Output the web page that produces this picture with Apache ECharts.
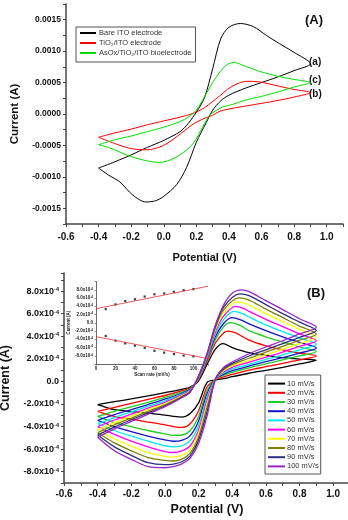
<!DOCTYPE html>
<html>
<head>
<meta charset="utf-8">
<script src="https://cdn.jsdelivr.net/npm/echarts@6/dist/echarts.min.js"></script>
<style>
  html, body { margin: 0; padding: 0; background: #fff; }
  #chart { width: 348px; height: 520px; }
</style>
</head>
<body>
<div id="chart"></div>
<script>
// panel A : cyclic voltammograms [potential V, current A]
const cvBare = [[-0.4,-0.00086],[-0.3,-0.00076],[-0.2,-0.00065],[-0.1,-0.00053],[0.0,-0.00042],[0.1,-0.00028],[0.15,-0.00015],[0.2,0.00003],[0.25,0.00026],[0.3,0.00072],[0.35,0.0012],[0.4,0.00138],[0.47,0.00144],[0.55,0.00139],[0.63,0.00125],[0.71,0.00112],[0.8,0.00098],[0.9,0.0008],
  [0.8,0.00069],[0.7,0.00059],[0.6,0.0005],[0.5,0.00041],[0.4,0.0003],[0.35,0.00021],[0.3,0.00006],[0.26,-0.00014],[0.2,-0.00045],[0.14,-0.00085],[0.08,-0.00112],[0.0,-0.00131],[-0.05,-0.00138],[-0.11,-0.0014],[-0.19,-0.00129],[-0.27,-0.00108],[-0.34,-0.00097],[-0.4,-0.00086]];
const cvTiO2 = [[-0.4,-0.00037],[-0.3,-0.0003],[-0.2,-0.00024],[-0.1,-0.00017],[0.0,-0.00011],[0.1,-0.00005],[0.18,0.00001],[0.25,0.0001],[0.3,0.0002],[0.35,0.0003],[0.39,0.00039],[0.45,0.00048],[0.51,0.00052],[0.59,0.00051],[0.71,0.00044],[0.8,0.00039],[0.9,0.00034],
  [0.8,0.00027],[0.71,0.00022],[0.6,0.00017],[0.51,0.00013],[0.4,0.00008],[0.34,0.00004],[0.3,-0.00002],[0.24,-0.00008],[0.18,-0.00016],[0.13,-0.00026],[0.08,-0.00036],[0.02,-0.00047],[-0.03,-0.00053],[-0.1,-0.00057],[-0.2,-0.00055],[-0.3,-0.00047],[-0.4,-0.00037]];
const cvAsOx = [[-0.4,-0.00049],[-0.3,-0.00041],[-0.2,-0.00035],[-0.1,-0.00028],[0.0,-0.00021],[0.1,-0.00012],[0.15,-0.00005],[0.2,0.00006],[0.26,0.00032],[0.32,0.00058],[0.38,0.00077],[0.43,0.00082],[0.5,0.00076],[0.6,0.00067],[0.7,0.0006],[0.8,0.00055],[0.9,0.0005],
  [0.8,0.00043],[0.7,0.00035],[0.6,0.00028],[0.5,0.00022],[0.42,0.00015],[0.36,0.00011],[0.3,0.00002],[0.28,-0.00002],[0.24,-0.0002],[0.18,-0.00047],[0.1,-0.00065],[0.02,-0.00075],[-0.03,-0.00077],[-0.13,-0.00073],[-0.23,-0.00065],[-0.33,-0.00054],[-0.4,-0.00049]];
const namesA = ['Bare ITO electrode', 'TiO\u2082/ITO electrode', 'AsOx/TiO\u2082/ITO bioelectrode'];
const colorsA = ['#000000', '#ff0000', '#00dd00'];

// panel B : scan rate series, current in units of 1e-4 A
const scanNames = ['10 mV/s','20 mV/s','30 mV/s','40 mV/s','50 mV/s','60 mV/s','70 mV/s','80 mV/s','90 mV/s','100 mV/s'];
const scanColors = ['#000000','#ff0000','#22cc22','#1414c8','#00e8f0','#ff00ff','#ffff00','#808000','#2e2e80','#9926c8'];
const cv10 = [[-0.4,-2.05],[-0.3,-1.8],[-0.2,-1.55],[-0.1,-1.28],[0,-1.0],[0.1,-0.7],[0.15,-0.5],[0.2,0.05],[0.25,1.5],[0.3,2.85],[0.345,3.35],[0.4,3.0],[0.5,2.55],[0.6,2.3],[0.7,2.1],[0.8,1.97],[0.9,1.87],
  [0.8,1.55],[0.7,1.25],[0.6,0.98],[0.5,0.72],[0.4,0.42],[0.35,0.25],[0.3,0.12],[0.25,-0.1],[0.2,-1.9],[0.15,-2.85],[0.1,-3.17],[0.05,-3.1],[0,-2.98],[-0.1,-2.82],[-0.2,-2.67],[-0.3,-2.5],[-0.4,-2.05]];
const cv20 = [[-0.4,-2.65],[-0.3,-2.3],[-0.2,-1.95],[-0.1,-1.6],[0,-1.25],[0.1,-0.85],[0.15,-0.6],[0.2,0.15],[0.25,1.75],[0.3,3.4],[0.35,4.3],[0.375,4.45],[0.42,4.3],[0.5,3.65],[0.6,3.15],[0.7,2.8],[0.8,2.5],[0.9,2.25],
  [0.8,1.9],[0.7,1.6],[0.6,1.3],[0.5,1.0],[0.4,0.62],[0.35,0.4],[0.3,0.15],[0.25,-0.5],[0.2,-2.6],[0.15,-3.75],[0.1,-4.08],[0.05,-4.0],[0,-3.85],[-0.1,-3.6],[-0.2,-3.35],[-0.3,-3.1],[-0.4,-2.65]];
const cv30 = [[-0.4,-3.1],[-0.3,-2.65],[-0.2,-2.25],[-0.1,-1.85],[0,-1.42],[0.1,-0.95],[0.15,-0.65],[0.2,0.2],[0.25,1.9],[0.3,3.7],[0.35,4.85],[0.39,5.2],[0.44,5.0],[0.5,4.5],[0.6,3.95],[0.7,3.5],[0.8,3.05],[0.9,2.65],
  [0.8,2.25],[0.7,1.9],[0.6,1.55],[0.5,1.2],[0.4,0.8],[0.35,0.55],[0.3,0.2],[0.25,-0.8],[0.2,-3.1],[0.15,-4.35],[0.1,-4.75],[0.05,-4.78],[0,-4.65],[-0.1,-4.35],[-0.2,-4.0],[-0.3,-3.65],[-0.4,-3.1]];
const cv40 = [[-0.4,-3.45],[-0.3,-2.95],[-0.2,-2.5],[-0.1,-2.05],[0,-1.58],[0.1,-1.05],[0.15,-0.7],[0.2,0.25],[0.25,2.0],[0.3,3.95],[0.35,5.15],[0.4,5.65],[0.45,5.45],[0.5,5.1],[0.6,4.5],[0.7,3.95],[0.8,3.45],[0.9,2.95],
  [0.8,2.5],[0.7,2.1],[0.6,1.75],[0.5,1.35],[0.4,0.95],[0.35,0.65],[0.3,0.2],[0.25,-1.1],[0.2,-3.5],[0.15,-4.8],[0.1,-5.22],[0.05,-5.3],[0,-5.18],[-0.1,-4.85],[-0.2,-4.45],[-0.3,-4.0],[-0.4,-3.45]];
const cv50 = [[-0.4,-3.75],[-0.3,-3.2],[-0.2,-2.7],[-0.1,-2.2],[0,-1.72],[0.1,-1.12],[0.15,-0.75],[0.2,0.3],[0.25,2.1],[0.3,4.2],[0.35,5.5],[0.41,6.2],[0.46,6.0],[0.5,5.7],[0.6,5.0],[0.7,4.4],[0.8,3.85],[0.9,3.3],
  [0.8,2.8],[0.7,2.35],[0.6,1.95],[0.5,1.5],[0.4,1.1],[0.35,0.75],[0.3,0.2],[0.25,-1.4],[0.2,-3.9],[0.15,-5.25],[0.1,-5.7],[0.05,-5.8],[0,-5.7],[-0.1,-5.3],[-0.2,-4.85],[-0.3,-4.35],[-0.4,-3.75]];
const cv60 = [[-0.4,-4.0],[-0.3,-3.42],[-0.2,-2.9],[-0.1,-2.36],[0,-1.85],[0.1,-1.2],[0.15,-0.8],[0.2,0.35],[0.25,2.2],[0.3,4.4],[0.35,5.8],[0.42,6.65],[0.47,6.45],[0.5,6.2],[0.6,5.5],[0.7,4.85],[0.8,4.2],[0.9,3.6],
  [0.8,3.1],[0.7,2.6],[0.6,2.15],[0.5,1.7],[0.4,1.25],[0.35,0.85],[0.3,0.2],[0.25,-1.7],[0.2,-4.3],[0.15,-5.7],[0.1,-6.15],[0.05,-6.3],[0,-6.22],[-0.1,-5.8],[-0.2,-5.3],[-0.3,-4.7],[-0.4,-4.0]];
const cv70 = [[-0.4,-4.3],[-0.3,-3.65],[-0.2,-3.08],[-0.1,-2.5],[0,-1.97],[0.1,-1.28],[0.15,-0.85],[0.2,0.4],[0.25,2.3],[0.3,4.6],[0.35,6.1],[0.43,7.05],[0.48,6.9],[0.6,6.0],[0.7,5.3],[0.8,4.6],[0.9,3.9],
  [0.8,3.35],[0.7,2.85],[0.6,2.35],[0.5,1.85],[0.4,1.4],[0.35,0.95],[0.3,0.2],[0.25,-2.0],[0.2,-4.6],[0.15,-6.05],[0.1,-6.55],[0.05,-6.7],[0,-6.65],[-0.1,-6.3],[-0.2,-5.75],[-0.3,-5.1],[-0.4,-4.3]];
const cv80 = [[-0.4,-4.55],[-0.3,-3.85],[-0.2,-3.25],[-0.1,-2.65],[0,-2.08],[0.1,-1.35],[0.15,-0.88],[0.2,0.4],[0.25,2.35],[0.3,4.75],[0.35,6.35],[0.44,7.4],[0.5,7.2],[0.6,6.4],[0.7,5.65],[0.8,4.9],[0.9,4.2],
  [0.8,3.65],[0.7,3.1],[0.6,2.6],[0.5,2.05],[0.4,1.5],[0.35,1.05],[0.3,0.2],[0.25,-2.3],[0.2,-4.9],[0.15,-6.35],[0.1,-6.88],[0.05,-7.05],[0,-7.0],[-0.1,-6.75],[-0.2,-6.15],[-0.3,-5.45],[-0.4,-4.55]];
const cv90 = [[-0.4,-4.75],[-0.3,-4.05],[-0.2,-3.4],[-0.1,-2.78],[0,-2.18],[0.1,-1.4],[0.15,-0.92],[0.2,0.45],[0.25,2.4],[0.3,4.9],[0.35,6.6],[0.445,7.75],[0.5,7.6],[0.6,6.8],[0.7,6.0],[0.8,5.25],[0.9,4.5],
  [0.8,3.9],[0.7,3.35],[0.6,2.8],[0.5,2.25],[0.4,1.6],[0.35,1.15],[0.3,0.2],[0.25,-2.7],[0.2,-5.2],[0.15,-6.6],[0.1,-7.12],[0.05,-7.33],[0,-7.38],[-0.1,-7.2],[-0.2,-6.55],[-0.3,-5.8],[-0.4,-4.75]];
const cv100 = [[-0.4,-4.95],[-0.3,-4.2],[-0.2,-3.55],[-0.1,-2.9],[0,-2.25],[0.1,-1.45],[0.15,-0.95],[0.2,0.5],[0.25,2.45],[0.3,5.0],[0.35,6.8],[0.4,7.8],[0.455,8.1],[0.5,7.95],[0.6,7.15],[0.7,6.35],[0.8,5.55],[0.9,4.8],
  [0.8,4.2],[0.7,3.6],[0.6,3.05],[0.5,2.45],[0.4,1.72],[0.35,1.25],[0.3,0.2],[0.25,-3.1],[0.2,-5.5],[0.15,-6.8],[0.1,-7.3],[0.05,-7.55],[0,-7.65],[-0.1,-7.55],[-0.2,-6.9],[-0.3,-6.15],[-0.4,-4.95]];
const cvB = [cv10, cv20, cv30, cv40, cv50, cv60, cv70, cv80, cv90, cv100];

// inset : peak current vs scan rate (1e-4 A)
const scanRate = [10, 20, 30, 40, 50, 60, 70, 80, 90, 100];
const ipa = [3.3, 4.45, 5.25, 5.7, 6.35, 6.9, 7.1, 7.5, 7.9, 8.15];
const ipc = [-3.2, -4.35, -5.0, -5.55, -6.1, -6.8, -7.25, -7.6, -7.95, -8.15];
const fitA = [[0, 3.4], [115, 8.85]];
const fitC = [[0, -3.35], [115, -8.7]];

const FONT = '"Liberation Sans", Arial, "DejaVu Sans", sans-serif';
const axisCol = '#444';

function fmtX(v) {
  const k = Math.round(v * 10);
  if (Math.abs(v * 10 - k) > 1e-6 || k % 2 !== 0 || k > 10) return '';
  return v.toFixed(1);
}
function fmtYA(v) {
  const k = Math.round(v / 0.00025);
  if (Math.abs(v / 0.00025 - k) > 1e-6 || k % 2 !== 0 || Math.abs(k) > 6) return '';
  return (k * 0.00025).toFixed(4);
}
function fmtE4(v, lim) {
  const k = Math.round(v);
  if (Math.abs(v - k) > 1e-6 || k % 2 !== 0 || Math.abs(k) > lim) return '';
  if (k === 0) return '0.0';
  return k.toFixed(1) + 'x10{s|-4}';
}

function baseAxis(extra) {
  return Object.assign({
    type: 'value',
    splitLine: { show: false },
    axisLine: { onZero: false, lineStyle: { color: axisCol, width: 1.5 } },
    axisTick: { length: 3, lineStyle: { color: axisCol, width: 1 } },
    nameLocation: 'middle'
  }, extra);
}

const chart = echarts.init(document.getElementById('chart'), null, { renderer: 'canvas' });

const series = [];
[cvBare, cvTiO2, cvAsOx].forEach((d, i) => {
  series.push({
    name: namesA[i], type: 'line', xAxisIndex: 0, yAxisIndex: 0,
    data: d, showSymbol: false, smooth: 0.3, animation: false,
    lineStyle: { color: colorsA[i], width: 1 }, itemStyle: { color: colorsA[i] }
  });
});
cvB.forEach((d, i) => {
  series.push({
    name: scanNames[i], type: 'line', xAxisIndex: 1, yAxisIndex: 1,
    data: d, showSymbol: false, smooth: 0.3, animation: false,
    lineStyle: { color: scanColors[i], width: 1.3 }, itemStyle: { color: scanColors[i] }
  });
});
series.push({
  type: 'line', xAxisIndex: 2, yAxisIndex: 2, data: fitA, showSymbol: false, animation: false,
  lineStyle: { color: '#e03030', width: 0.8 }
});
series.push({
  type: 'line', xAxisIndex: 2, yAxisIndex: 2, data: fitC, showSymbol: false, animation: false,
  lineStyle: { color: '#e03030', width: 0.8 }
});
series.push({
  type: 'scatter', xAxisIndex: 2, yAxisIndex: 2, symbol: 'rect', symbolSize: 2.2, animation: false,
  data: scanRate.map((s, i) => [s, ipa[i]]), itemStyle: { color: '#111' }
});
series.push({
  type: 'scatter', xAxisIndex: 2, yAxisIndex: 2, symbol: 'rect', symbolSize: 2.2, animation: false,
  data: scanRate.map((s, i) => [s, ipc[i]]), itemStyle: { color: '#111' }
});

const labBold = (size, fmt, margin) => ({
  fontSize: size, fontWeight: 'bold', color: '#111', fontFamily: FONT, formatter: fmt, margin: margin
});

chart.setOption({
  backgroundColor: '#fff',
  animation: false,
  grid: [
    { left: 66, top: 4, right: 5, bottom: 296, outerBoundsMode: 'none' },
    { left: 64, top: 273, right: -2, bottom: 37, outerBoundsMode: 'none' },
    { left: 96, top: 281.5, right: 140, bottom: 156, outerBoundsMode: 'none' }
  ],
  xAxis: [
    baseAxis({ gridIndex: 0, min: -0.6, max: 1.1, interval: 0.1,
      axisLabel: labBold(10, fmtX, 8),
      name: 'Potential (V)', nameGap: 28,
      nameTextStyle: { fontSize: 11, fontWeight: 'bold', color: '#111', fontFamily: FONT } }),
    baseAxis({ gridIndex: 1, min: -0.6, max: 1.1, interval: 0.1,
      axisLabel: labBold(10, fmtX, 6),
      name: 'Potential (V)', nameGap: 20,
      nameTextStyle: { fontSize: 12.5, fontWeight: 'bold', color: '#111', fontFamily: FONT } }),
    baseAxis({ gridIndex: 2, min: 0, max: 115, interval: 20,
      axisLine: { onZero: false, lineStyle: { color: axisCol, width: 0.8 } },
      axisTick: { length: 1.5, lineStyle: { color: axisCol, width: 0.6 } },
      axisLabel: { fontSize: 4.5, fontWeight: 'bold', color: '#222', fontFamily: FONT, margin: 2,
        formatter: v => (v % 20 === 0 && v <= 100) ? String(v) : '' },
      name: 'Scan rate (mV/s)', nameGap: 7,
      nameTextStyle: { fontSize: 4.5, fontWeight: 'bold', color: '#222', fontFamily: FONT } })
  ],
  yAxis: [
    baseAxis({ gridIndex: 0, min: -0.00175, max: 0.00175, interval: 0.00025,
      axisLabel: labBold(8.5, fmtYA, 5),
      name: 'Current (A)', nameGap: 40,
      nameTextStyle: { fontSize: 11.5, fontWeight: 'bold', color: '#111', fontFamily: FONT } }),
    baseAxis({ gridIndex: 1, min: -9, max: 9.6, interval: 1,
      axisLabel: Object.assign(labBold(9, v => fmtE4(v, 8), 5), {
        rich: { s: { fontSize: 5.5, fontWeight: 'bold', color: '#111', fontFamily: FONT, verticalAlign: 'top', lineHeight: 8 } }
      }),
      name: 'Current (A)', nameGap: 52,
      nameTextStyle: { fontSize: 12.5, fontWeight: 'bold', color: '#111', fontFamily: FONT } }),
    baseAxis({ gridIndex: 2, min: -10, max: 10, interval: 2,
      axisLine: { onZero: false, lineStyle: { color: axisCol, width: 0.8 } },
      axisTick: { length: 1.5, lineStyle: { color: axisCol, width: 0.6 } },
      axisLabel: { fontSize: 4.5, fontWeight: 'bold', color: '#222', fontFamily: FONT, margin: 3,
        formatter: v => fmtE4(v, 8),
        rich: { s: { fontSize: 3, fontWeight: 'bold', color: '#222', fontFamily: FONT, verticalAlign: 'top', lineHeight: 4 } } },
      name: 'Current (A)', nameGap: 21,
      nameTextStyle: { fontSize: 4.5, fontWeight: 'bold', color: '#222', fontFamily: FONT } })
  ],
  legend: [
    { data: namesA, orient: 'vertical', left: 76, top: 27, itemGap: 0,
      itemWidth: 16, itemHeight: 2, icon: 'rect',
      padding: [1, 4, 4, 4], borderColor: '#555', borderWidth: 1,
      textStyle: { fontSize: 7.5, color: '#333', fontFamily: FONT, lineHeight: 10, padding: [0, 0, 0, -2] } },
    { data: scanNames, orient: 'vertical', left: 265, top: 375, itemGap: 0,
      itemWidth: 17, itemHeight: 2, icon: 'rect',
      padding: [4, 2, 3, 3], borderColor: '#555', borderWidth: 1,
      textStyle: { fontSize: 7.5, color: '#333', fontFamily: FONT, lineHeight: 9.2, padding: [0, 0, 0, -3] } }
  ],
  graphic: [
    { type: 'text', left: 305, top: 14, style: { text: '(A)', font: 'bold 13px ' + FONT, fill: '#111' } },
    { type: 'text', left: 307, top: 287, style: { text: '(B)', font: 'bold 13px ' + FONT, fill: '#111' } },
    { type: 'text', left: 309, top: 57, style: { text: '(a)', font: 'bold 10px ' + FONT, fill: '#111' } },
    { type: 'text', left: 309, top: 75, style: { text: '(c)', font: 'bold 10px ' + FONT, fill: '#111' } },
    { type: 'text', left: 309, top: 89, style: { text: '(b)', font: 'bold 10px ' + FONT, fill: '#111' } }
  ],
  series: series
});
</script>
</body>
</html>
